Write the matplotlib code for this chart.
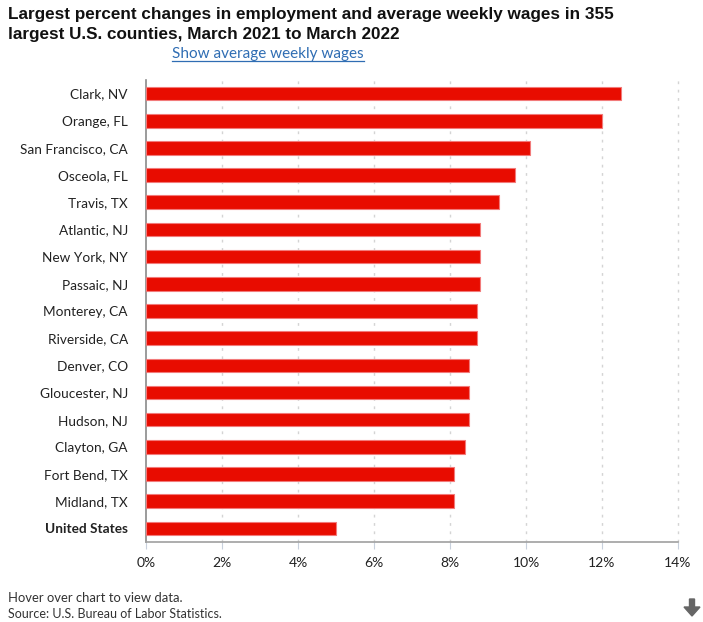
import matplotlib
matplotlib.use("Agg")
import matplotlib.pyplot as plt
from matplotlib.patches import FancyArrow

counties = ["Clark, NV", "Orange, FL", "San Francisco, CA", "Osceola, FL", "Travis, TX",
            "Atlantic, NJ", "New York, NY", "Passaic, NJ", "Monterey, CA", "Riverside, CA",
            "Denver, CO", "Gloucester, NJ", "Hudson, NJ", "Clayton, GA", "Fort Bend, TX",
            "Midland, TX", "United States"]
employment_change = [12.5, 12.0, 10.1, 9.7, 9.3, 8.8, 8.8, 8.8, 8.7, 8.7,
                     8.5, 8.5, 8.5, 8.4, 8.1, 8.1, 5.0]
x_ticks = [0, 2, 4, 6, 8, 10, 12, 14]
x_tick_labels = ["0%", "2%", "4%", "6%", "8%", "10%", "12%", "14%"]

W, H = 703, 622
fig = plt.figure(figsize=(W / 100, H / 100), dpi=100)
ax = fig.add_axes([146 / W, 1 - 542 / H, (678 - 146) / W, (542 - 80) / H])

label_font = ["Lato", "DejaVu Sans"]

ypos = list(range(len(counties)))
ax.barh(ypos, employment_change, height=0.5, color="#E80C00",
        edgecolor="#F27A7A", linewidth=0.8, zorder=3)
ax.set_ylim(len(counties) - 0.5, -0.5)
ax.set_xlim(0, 14)
ax.set_yticks(ypos)
ax.set_yticklabels(counties, fontsize=9.8, family=label_font, color="#222222")
for lbl, name in zip(ax.get_yticklabels(), counties):
    if name == "United States":
        lbl.set_fontweight("bold")
ax.tick_params(axis="y", length=0, pad=13)
ax.set_xticks(x_ticks)
ax.set_xticklabels(x_tick_labels, fontsize=10, family=label_font, color="#222222")
ax.tick_params(axis="x", length=5, width=0.8, color="#c8d0dc", pad=6)

for x in x_ticks[1:]:
    ax.axvline(x, color="#d4d4d4", linestyle=(0, (2, 4)), linewidth=1.0, zorder=1,
               clip_on=False)

for s in ["top", "right"]:
    ax.spines[s].set_visible(False)
ax.spines["left"].set_color("#8a8a8a")
ax.spines["left"].set_linewidth(1.2)
ax.spines["bottom"].set_color("#a0a0a0")
ax.spines["bottom"].set_linewidth(1.2)

title_font = ["Liberation Sans", "DejaVu Sans"]
fig.text(8 / W, 1 - 14 / H, "Largest percent changes in employment and average weekly wages in 355",
         fontsize=12.35, fontweight="bold", family=title_font, color="#111111", va="center", ha="left")
fig.text(8 / W, 1 - 35 / H, "largest U.S. counties, March 2021 to March 2022",
         fontsize=12.35, fontweight="bold", family=title_font, color="#111111", va="center", ha="left")
link = fig.text(268 / W, 1 - 54 / H, "Show average weekly wages", fontsize=11, family=label_font,
                color="#2f6db3", va="center", ha="center")
fig.canvas.draw()
bb = link.get_window_extent()
fig.add_artist(plt.Line2D([bb.x0 / W, bb.x1 / W], [(bb.y0 + 0.5) / H, (bb.y0 + 0.5) / H],
                          transform=fig.transFigure, color="#2f6db3", linewidth=0.9))

fig.text(8 / W, 1 - 598 / H, "Hover over chart to view data.", fontsize=9.4, family=label_font,
         color="#333333", va="center", ha="left")
fig.text(8 / W, 1 - 614 / H, "Source: U.S. Bureau of Labor Statistics.", fontsize=9.0,
         family=label_font, color="#333333", va="center", ha="left")

arrow = FancyArrow(692 / W, 1 - 599 / H, 0, -17 / H, width=5 / W, head_width=16 / W,
                   head_length=9 / H, length_includes_head=True, transform=fig.transFigure,
                   color="#666666")
fig.add_artist(arrow)

fig.savefig("out.png", dpi=100)
